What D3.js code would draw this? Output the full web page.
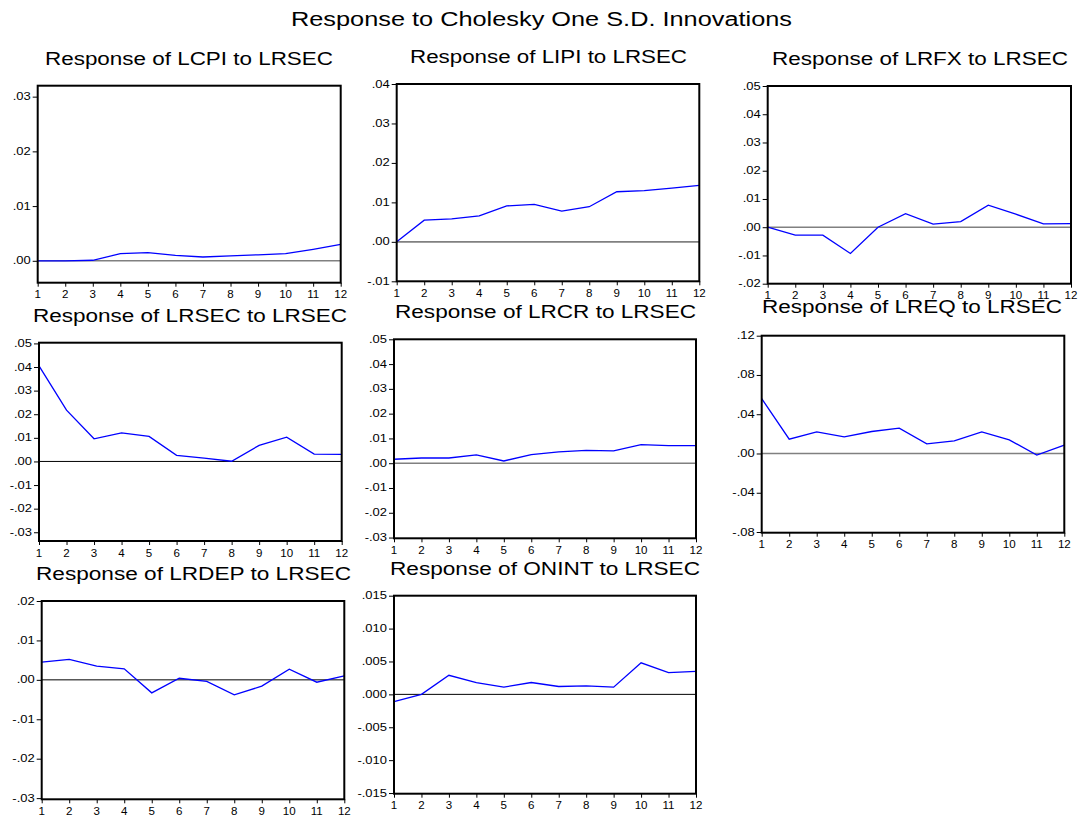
<!DOCTYPE html>
<html>
<head>
<meta charset="utf-8">
<script src="https://cdn.jsdelivr.net/npm/d3@7/dist/d3.min.js"></script>
<style>
  html, body { margin: 0; padding: 0; background: #fff; }
  svg { display: block; }
  text { font-family: "Liberation Sans", Arial, sans-serif; fill: #000; }
</style>
</head>
<body>
<svg id="chart" width="1081" height="820"></svg>
<script>
// Impulse horizons (periods after the shock)
const horizons = [1, 2, 3, 4, 5, 6, 7, 8, 9, 10, 11, 12];

// Responses to a one S.D. LRSEC innovation
const lcpi  = [0.0000, 0.0000, 0.0001, 0.0013, 0.0015, 0.0010, 0.0007, 0.0009, 0.0011, 0.0013, 0.0021, 0.0030];
const lipi  = [0.0000, 0.0055, 0.0058, 0.0066, 0.0091, 0.0095, 0.0078, 0.0089, 0.0127, 0.0130, 0.0136, 0.0143];
const lrfx  = [0.0000, -0.0028, -0.0028, -0.0093, 0.0000, 0.0048, 0.0011, 0.0020, 0.0078, 0.0046, 0.0012, 0.0013];
const lrsec = [0.0405, 0.0217, 0.0096, 0.0121, 0.0106, 0.0026, 0.0014, 0.0001, 0.0068, 0.0103, 0.0031, 0.0030];
const lrcr  = [0.0016, 0.0021, 0.0021, 0.0034, 0.0009, 0.0035, 0.0046, 0.0052, 0.0050, 0.0075, 0.0071, 0.0071];
const lreq  = [0.0559, 0.0146, 0.0220, 0.0170, 0.0224, 0.0258, 0.0098, 0.0129, 0.0220, 0.0139, -0.0017, 0.0085];
const lrdep = [0.0045, 0.0052, 0.0035, 0.0028, -0.0033, 0.0004, -0.0004, -0.0038, -0.0016, 0.0027, -0.0006, 0.0010];
const onint = [-0.0011, 0.0000, 0.0029, 0.0018, 0.0011, 0.0018, 0.0012, 0.0013, 0.0011, 0.0048, 0.0033, 0.0035];

// Y-axis tick values per panel
const ticksLcpi  = [0.00, 0.01, 0.02, 0.03];
const ticksLipi  = [-0.01, 0.00, 0.01, 0.02, 0.03, 0.04];
const ticksLrfx  = [-0.02, -0.01, 0.00, 0.01, 0.02, 0.03, 0.04, 0.05];
const ticksLrsec = [-0.03, -0.02, -0.01, 0.00, 0.01, 0.02, 0.03, 0.04, 0.05];
const ticksLrcr  = [-0.03, -0.02, -0.01, 0.00, 0.01, 0.02, 0.03, 0.04, 0.05];
const ticksLreq  = [-0.08, -0.04, 0.00, 0.04, 0.08, 0.12];
const ticksLrdep = [-0.03, -0.02, -0.01, 0.00, 0.01, 0.02];
const ticksOnint = [-0.015, -0.010, -0.005, 0.000, 0.005, 0.010, 0.015];

const mainTitle = "Response to Cholesky One S.D. Innovations";

// Panel layout: frame box, value domain, title placement
const panels = [
  { title: "Response of LCPI to LRSEC",  values: lcpi,  ticks: ticksLcpi,  dec: 2, domain: [-0.004, 0.032],
    box: [37.7, 85.7, 340.7, 282.7], tx: [45, 333], ty: 65, zero: "#808080" },
  { title: "Response of LIPI to LRSEC",  values: lipi,  ticks: ticksLipi,  dec: 2, domain: [-0.01, 0.04],
    box: [396.7, 84, 699.3, 281.3], tx: [410, 687], ty: 63, zero: "#808080" },
  { title: "Response of LRFX to LRSEC",  values: lrfx,  ticks: ticksLrfx,  dec: 2, domain: [-0.02, 0.05],
    box: [767.7, 86, 1071, 283.7], tx: [772, 1068], ty: 65, zero: "#808080" },
  { title: "Response of LRSEC to LRSEC", values: lrsec, ticks: ticksLrsec, dec: 2, domain: [-0.0337, 0.0503],
    box: [39, 342.7, 341.7, 541], tx: [33, 347], ty: 322, zero: "#000" },
  { title: "Response of LRCR to LRSEC",  values: lrcr,  ticks: ticksLrcr,  dec: 2, domain: [-0.0303, 0.0500],
    box: [394, 339.3, 696, 538.3], tx: [395, 696], ty: 318, zero: "#808080" },
  { title: "Response of LREQ to LRSEC",  values: lreq,  ticks: ticksLreq,  dec: 2, domain: [-0.0807, 0.1200],
    box: [761.7, 335.7, 1064.3, 532.7], tx: [762, 1062], ty: 313, zero: "#808080" },
  { title: "Response of LRDEP to LRSEC", values: lrdep, ticks: ticksLrdep, dec: 2, domain: [-0.0303, 0.0200],
    box: [41.7, 601, 344.3, 799.3], tx: [36, 351], ty: 580, zero: "#000" },
  { title: "Response of ONINT to LRSEC", values: onint, ticks: ticksOnint, dec: 3, domain: [-0.0151, 0.0150],
    box: [394, 595.7, 696, 793.7], tx: [390, 700], ty: 575, zero: "#000" }
];

const svg = d3.select("#chart");

// Horizontally widened text (the typeface is set wide)
function wideText(g, str, x, y, size, anchor, sx) {
  return g.append("text")
    .attr("transform", `translate(${x},${y}) scale(${sx},1)`)
    .attr("font-size", size)
    .attr("text-anchor", anchor)
    .text(str);
}

// Main title
svg.append("text")
  .attr("x", 291).attr("y", 26)
  .attr("font-size", 19.5)
  .attr("textLength", 501)
  .attr("lengthAdjust", "spacingAndGlyphs")
  .text(mainTitle);

// Tick labels without the leading zero: .03, -.01, .000
function fmt(v, dec) {
  const r = Math.abs(v) < 1e-12 ? 0 : v;
  const s = Math.abs(r).toFixed(dec).replace(/^0\./, ".");
  return (r < 0 ? "-" : "") + s;
}

panels.forEach(p => {
  const [x0, y0, x1, y1] = p.box;
  const g = svg.append("g");

  const x = d3.scaleLinear().domain([1, 12]).range([x0, x1]);
  const y = d3.scaleLinear().domain(p.domain).range([y1, y0]);

  // Panel title
  g.append("text")
    .attr("x", p.tx[0]).attr("y", p.ty)
    .attr("font-size", 18)
    .attr("textLength", p.tx[1] - p.tx[0])
    .attr("lengthAdjust", "spacingAndGlyphs")
    .text(p.title);

  // Zero line
  g.append("line")
    .attr("x1", x0).attr("x2", x1)
    .attr("y1", y(0)).attr("y2", y(0))
    .attr("stroke", p.zero).attr("stroke-width", p.zero === "#000" ? 1 : 1.6);

  // Response line
  const line = d3.line().x((d, i) => x(horizons[i])).y(d => y(d));
  g.append("path")
    .datum(p.values)
    .attr("d", line)
    .attr("fill", "none")
    .attr("stroke", "#0000ff")
    .attr("stroke-width", 1.3);

  // Y axis ticks and labels
  const yAxis = d3.axisLeft(y).tickValues(p.ticks).tickSize(5).tickFormat(() => "");
  const ya = g.append("g").attr("transform", `translate(${x0},0)`).call(yAxis);
  ya.select(".domain").remove();
  ya.selectAll(".tick line").attr("stroke", "#000").attr("stroke-width", 1);
  p.ticks.forEach(v => {
    wideText(g, fmt(v, p.dec), x0 - 7, y(v) + 3.5, 10, "end", 1.3);
  });

  // X axis ticks and labels
  const xAxis = d3.axisBottom(x).tickValues(horizons).tickSize(4).tickFormat(() => "");
  const xa = g.append("g").attr("transform", `translate(0,${y1})`).call(xAxis);
  xa.select(".domain").remove();
  xa.selectAll(".tick line").attr("stroke", "#000").attr("stroke-width", 1);
  horizons.forEach(h => {
    wideText(g, String(h), x(h), y1 + 15.5, 10.5, "middle", 1.1);
  });

  // Frame
  g.append("rect")
    .attr("x", x0).attr("y", y0)
    .attr("width", x1 - x0).attr("height", y1 - y0)
    .attr("fill", "none")
    .attr("stroke", "#000").attr("stroke-width", 2);
});
</script>
</body>
</html>
